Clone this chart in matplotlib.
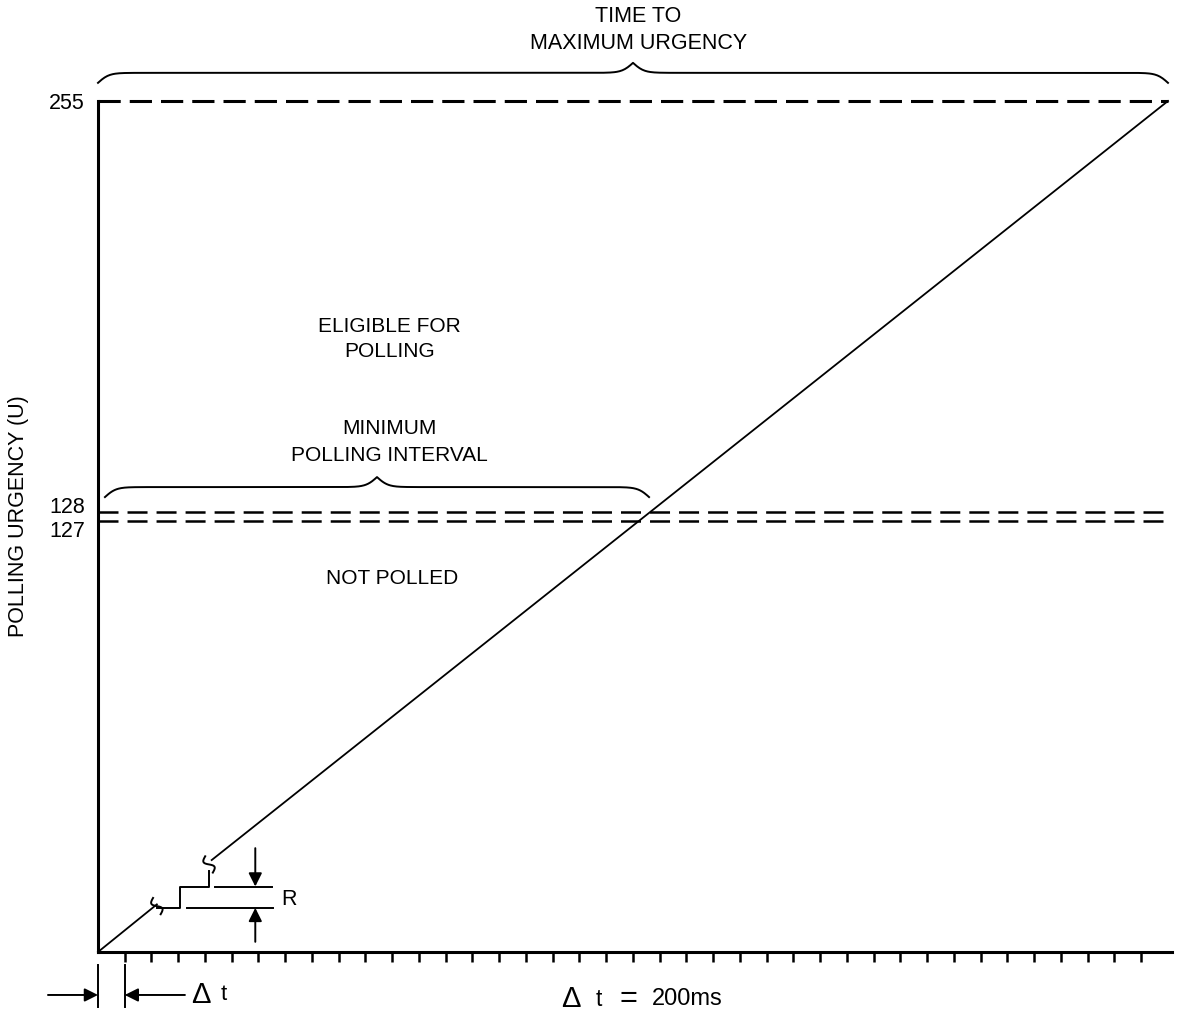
import numpy as np
import matplotlib
matplotlib.use("Agg")
import matplotlib.pyplot as plt
from matplotlib.transforms import ScaledTranslation, IdentityTransform

plt.rcParams['font.family'] = ['Liberation Sans', 'DejaVu Sans']
plt.rcParams['lines.scale_dashes'] = False

# time axis counted in delta t steps (200 ms each)
t_max = 40
tick_steps = np.arange(1, 40)
u_max = 255
levels = [255, 128, 127]
level_labels = ['255', '128', '127']

# detail near the origin: urgency grows by R every delta t
break_t = [2.2, 4.25]
step_t = [2.2, 3.05, 3.05, 4.15, 4.15]
step_u = [13.0, 13.0, 19.3, 19.3, 24.0]
r_levels = [13.0, 19.3]

# the y axis is schematic, the 127/128 gap is drawn stretched
u_knots = [-100, 0, 127, 128, 255, 400]
p_knots = [-339.4, 0, 431, 440, 851, 1320.2]


def fwd(u):
    return np.interp(u, u_knots, p_knots)


def inv(p):
    return np.interp(p, p_knots, u_knots)


def urgency(t):
    return u_max * np.asarray(t) / t_max


def brace(ax, x0, x1, y, depth=10, beta=0.18, lw=1.4):
    """Curly brace over [x0, x1] at level y, drawn in pixel space"""
    (px0, py), (px1, _) = ax.transData.transform([(x0, y), (x1, y)])
    xs = np.linspace(px0, px1, 801)
    half = xs[:401]
    h = (1 / (1 + np.exp(-beta * (half - half[0])))
         + 1 / (1 + np.exp(-beta * (half - half[-1]))))
    ys = np.concatenate([h, h[-2::-1]])
    ax.plot(xs, py + (ys - 1) * 2 * depth, transform=IdentityTransform(),
            color='k', lw=lw, clip_on=False)


def squiggle(ax, x, y, angle, size=9, amp=4.0, lw=1.4):
    """Small break mark across the line"""
    cx, cy = ax.transData.transform((x, y))
    s = np.linspace(-1, 1, 40)
    a = np.deg2rad(angle)
    u = s * size
    v = amp * np.sin(np.pi * s)
    ax.plot(cx + u * np.cos(a) - v * np.sin(a), cy + u * np.sin(a) + v * np.cos(a),
            transform=IdentityTransform(), color='k', lw=lw, clip_on=False)


fig = plt.figure(figsize=(11.77, 10.14), dpi=100)
ax = fig.add_axes([98 / 1177, 1 - 952 / 1014, 1074 / 1177, 851 / 1014])
ax.set_yscale('function', functions=(fwd, inv))
ax.set_xlim(0, 40.15)
ax.set_ylim(0, 255)

for side in ['top', 'right']:
    ax.spines[side].set_visible(False)
for side in ['left', 'bottom']:
    ax.spines[side].set_linewidth(2.2)

ax.set_xticks(tick_steps)
ax.set_xticklabels([])
ax.tick_params(axis='x', direction='out', length=7.2, width=1.8)

ax.set_yticks(levels)
ax.set_yticklabels(level_labels)
ax.tick_params(axis='y', length=0, pad=9.5, labelsize=15.5)
offsets = [0, 7, -8]
for lab, off in zip(ax.get_yticklabels(), offsets):
    lab.set_transform(lab.get_transform() + ScaledTranslation(0, off / 100, fig.dpi_scale_trans))

ax.set_ylabel('POLLING URGENCY (U)', fontsize=15.5)
ax.yaxis.set_label_coords(-0.064, 0.512)

# threshold levels
ax.plot([0, t_max], [levels[0], levels[0]], color='k', lw=2.2,
        dashes=(16, 6.5), clip_on=False)
for lev in levels[1:]:
    ax.plot([0, t_max], [lev, lev], color='k', lw=1.8,
            dashes=(14.4, 6.5), clip_on=False)

# urgency ramp, with the stepped detail near the origin
ax.plot([0, break_t[0]], urgency([0, break_t[0]]), color='k', lw=1.3, clip_on=False)
ax.plot([break_t[1], t_max], urgency([break_t[1], t_max]), color='k', lw=1.3, clip_on=False)
ax.plot(step_t, step_u, color='k', lw=1.4, clip_on=False)
squiggle(ax, break_t[0], urgency(break_t[0]) - 0.5, 115)
squiggle(ax, step_t[-1], step_u[-1] + 1.8, 115)

# R annotation
ax.plot([4.37, 6.49], [r_levels[1], r_levels[1]], color='k', lw=1.4)
ax.plot([3.32, 6.53], [r_levels[0], r_levels[0]], color='k', lw=1.4)
arrow = dict(arrowstyle='-|>', color='k', lw=1.4, mutation_scale=20,
             shrinkA=0, shrinkB=0)
ax.annotate('', xy=(5.88, r_levels[1]), xytext=(5.88, 30.6), arrowprops=arrow)
ax.annotate('', xy=(5.88, r_levels[0]), xytext=(5.88, 3.0), arrowprops=arrow)
ax.text(6.85, 15.6, 'R', fontsize=15.5, ha='left', va='center')

# region labels
ax.text(10.9, 181.5, 'ELIGIBLE FOR\nPOLLING', fontsize=15, ha='center', va='center',
        linespacing=1.42)
ax.text(10.9, 149.6, 'MINIMUM\nPOLLING INTERVAL', fontsize=15, ha='center', va='center',
        linespacing=1.5)
ax.text(11.0, 110.2, 'NOT POLLED', fontsize=15, ha='center', va='center')
ax.text(20.2, 277.0, 'TIME TO\nMAXIMUM URGENCY', fontsize=15.5, ha='center', va='center',
        linespacing=1.35)

brace(ax, 0.26, 20.6, 135.7, depth=10)
brace(ax, 0.0, 40.0, 263.7, depth=10)

# delta t marker below the axis
xa = ax.get_xaxis_transform()
for x in [0, 1]:
    ax.plot([x, x], [-0.0153, -0.0646], transform=xa, color='k', lw=1.4, clip_on=False)
ax.annotate('', xy=(0, -0.0505), xytext=(-1.87, -0.0505), xycoords=xa, textcoords=xa,
            arrowprops=arrow)
ax.annotate('', xy=(1, -0.0505), xytext=(3.25, -0.0505), xycoords=xa, textcoords=xa,
            arrowprops=arrow)
ax.text(3.5, -0.0505, 'Δ', transform=xa, fontsize=21, ha='left', va='center')
ax.text(4.6, -0.0505, 't', transform=xa, fontsize=16, ha='left', va='center')

ax.text(17.3, -0.0555, 'Δ', transform=xa, fontsize=21, ha='left', va='center')
ax.text(18.6, -0.0555, 't', transform=xa, fontsize=16.5, ha='left', va='center')
ax.text(19.5, -0.0555, '=', transform=xa, fontsize=22, ha='left', va='center')
ax.text(20.72, -0.0555, '200ms', transform=xa, fontsize=17, ha='left', va='center')

fig.savefig('out.png', dpi=100)
